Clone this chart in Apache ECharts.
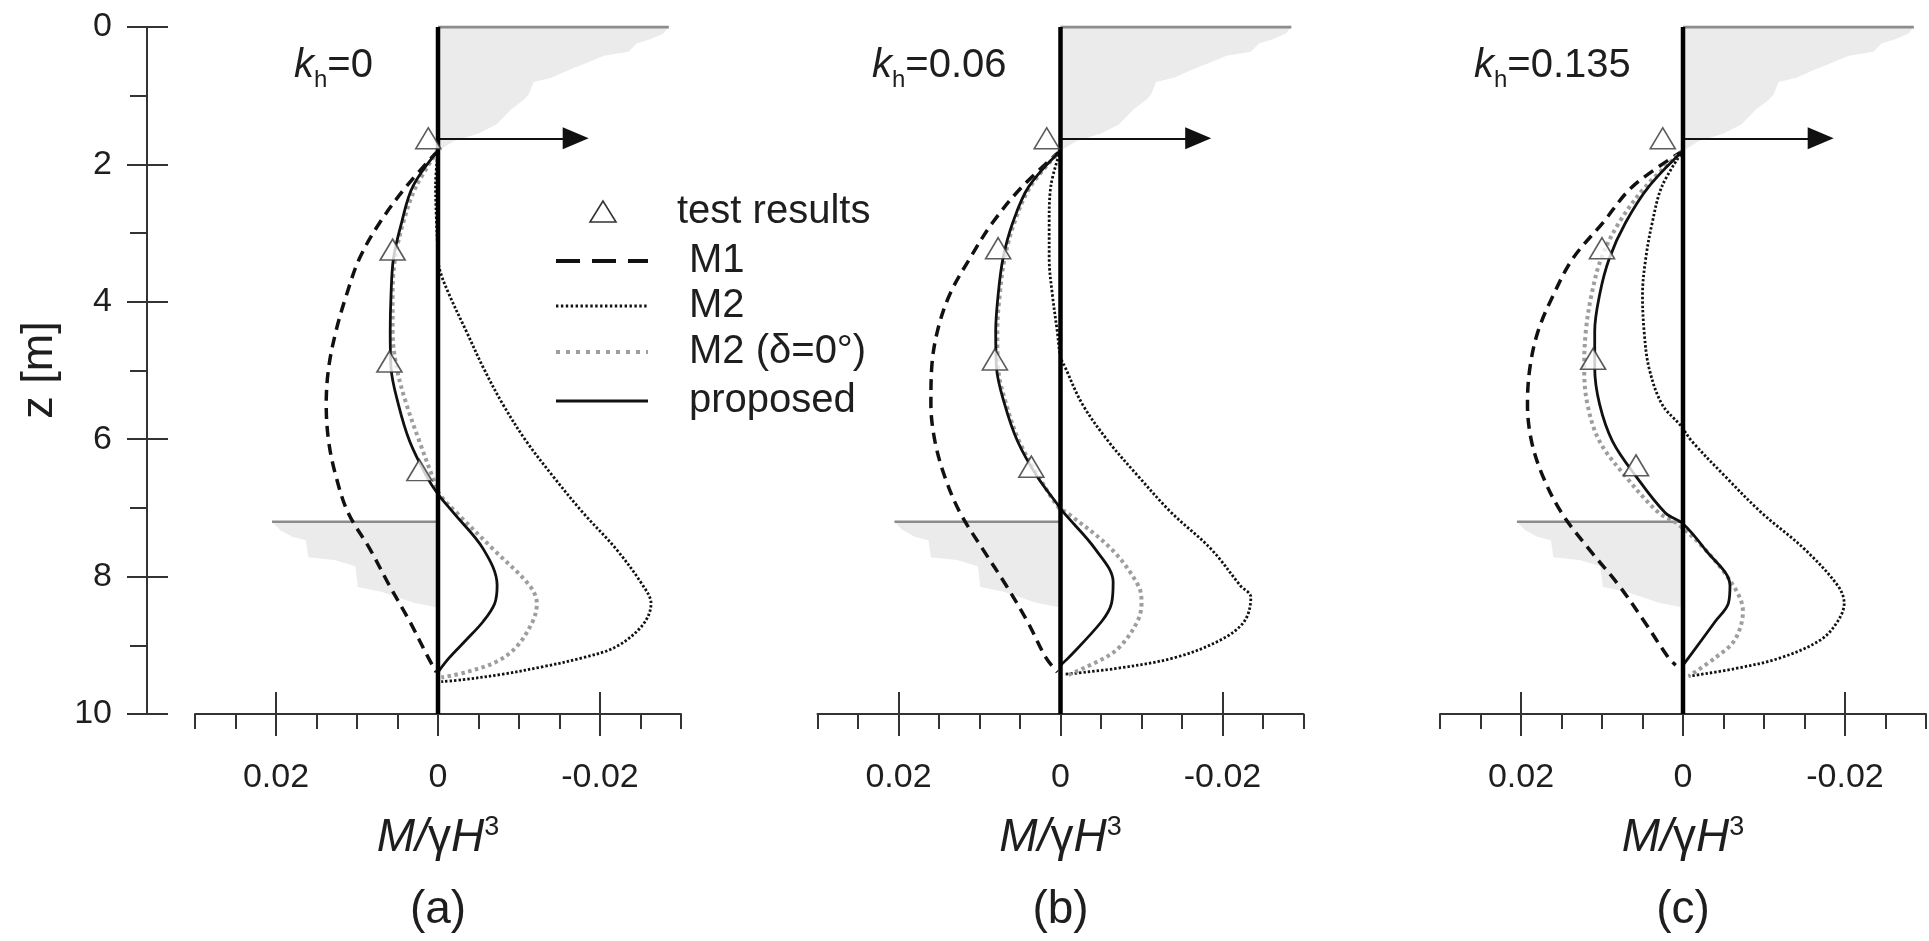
<!DOCTYPE html>
<html><head><meta charset="utf-8">
<script src="https://cdn.jsdelivr.net/npm/echarts@6/dist/echarts.min.js"></script>
<style>html,body{margin:0;padding:0;background:#fff}#c{width:1929px;height:941px}</style>
</head><body><div id="c"></div>
<script>
// ---------- data ----------
const panelLabels = ['(a)', '(b)', '(c)'];
const khValues = ['=0', '=0.06', '=0.135'];
const xTickLabels = [0.02, 0, -0.02];
const legendLabels = ['test results', 'M1', 'M2', 'M2 (\u03b4=0\u00b0)', 'proposed'];

// test results  [M/γH³, z]
const testA = [[0.0012,1.62],[0.0056,3.24],[0.0060,4.87],[0.0023,6.45]];
const testB = [[0.0017,1.62],[0.0077,3.22],[0.0081,4.84],[0.0036,6.40]];
const testC = [[0.0025,1.62],[0.0100,3.22],[0.0111,4.83],[0.0058,6.38]];

// M1
const m1A = [[0,1.8],[0.0039,2.32],[0.0072,2.85],[0.0097,3.37],[0.0113,3.9],[0.0126,4.43],[0.0135,4.96],[0.0138,5.49],[0.0135,6.03],[0.0126,6.54],[0.0111,7.07],[0.0084,7.6],[0.0060,8.13],[0.0035,8.65],[0.0012,9.18],[0.0002,9.39]];
const m1B = [[0,1.8],[0.0047,2.32],[0.0084,2.85],[0.0112,3.37],[0.0137,3.9],[0.0152,4.43],[0.0159,4.96],[0.0160,5.49],[0.0155,6.03],[0.0143,6.54],[0.0124,7.07],[0.0096,7.6],[0.0067,8.13],[0.0041,8.65],[0.0018,9.18],[0.0004,9.39]];
const m1C = [[0,1.8],[0.0062,2.32],[0.0099,2.85],[0.0136,3.37],[0.0160,3.9],[0.0179,4.43],[0.0189,4.96],[0.0192,5.49],[0.0187,6.03],[0.0173,6.54],[0.0150,7.07],[0.0116,7.6],[0.0079,8.13],[0.0048,8.65],[0.0018,9.18],[0.0009,9.29]];

// M2
const m2A = [[0,1.8],[0.0003,2.3],[0.0002,2.8],[0,3.3],[-0.0002,3.53],[-0.0014,3.9],[-0.0035,4.43],[-0.0056,4.96],[-0.0080,5.49],[-0.0109,6.03],[-0.0142,6.54],[-0.0179,7.07],[-0.0220,7.6],[-0.0253,8.13],[-0.0263,8.39],[-0.0253,8.70],[-0.0220,9.02],[-0.0179,9.18],[-0.0130,9.31],[-0.0080,9.42],[-0.0031,9.50],[-0.0004,9.53]];
const m2B = [[0,1.8],[0.0012,2.32],[0.0014,2.85],[0.0014,3.37],[0.0010,3.9],[0.0004,4.43],[0,4.8],[-0.0006,4.96],[-0.0027,5.49],[-0.0059,6.03],[-0.0096,6.54],[-0.0137,7.07],[-0.0186,7.6],[-0.0222,8.13],[-0.0235,8.3],[-0.0227,8.65],[-0.0198,8.92],[-0.0141,9.18],[-0.0067,9.34],[-0.0006,9.42]];
const m2C = [[0,1.8],[0.0026,2.32],[0.0038,2.85],[0.0046,3.37],[0.0050,3.9],[0.0048,4.43],[0.0042,4.96],[0.0026,5.49],[0.0003,5.8],[-0.0011,6.03],[-0.0052,6.54],[-0.0097,7.07],[-0.0150,7.6],[-0.0191,8.13],[-0.0199,8.39],[-0.0191,8.65],[-0.0170,8.92],[-0.0121,9.18],[-0.0064,9.34],[-0.0007,9.45]];

// M2 (delta = 0)
const m2dA = [[0,1.8],[0.0027,2.32],[0.0043,2.85],[0.0053,3.37],[0.0056,3.9],[0.0056,4.43],[0.0051,4.96],[0.0039,5.49],[0.0023,6.03],[0.0007,6.54],[-0.0002,6.8],[-0.0023,7.07],[-0.0068,7.6],[-0.0113,8.13],[-0.0122,8.39],[-0.0117,8.65],[-0.0097,9.02],[-0.0072,9.24],[-0.0035,9.39],[-0.0004,9.47]];
const m2dB = [[0,1.8],[0.0037,2.32],[0.0057,2.85],[0.0069,3.37],[0.0075,3.9],[0.0078,4.43],[0.0077,4.96],[0.0067,5.49],[0.0051,6.03],[0.0027,6.54],[0.0002,7.0],[-0.0008,7.07],[-0.0063,7.6],[-0.0096,8.13],[-0.0100,8.39],[-0.0095,8.65],[-0.0075,9.0],[-0.0055,9.18],[-0.0006,9.45]];
const m2dC = [[0,1.8],[0.0046,2.32],[0.0079,2.85],[0.0101,3.37],[0.0113,3.9],[0.0120,4.43],[0.0122,4.96],[0.0118,5.49],[0.0103,6.03],[0.0071,6.54],[0.0030,7.07],[0.0007,7.23],[-0.0027,7.6],[-0.0062,8.13],[-0.0074,8.5],[-0.0064,8.92],[-0.0040,9.18],[-0.0007,9.45]];

// proposed
const propA = [[0,1.8],[0.0031,2.32],[0.0045,2.85],[0.0055,3.37],[0.0058,3.9],[0.0059,4.43],[0.0058,4.96],[0.0049,5.49],[0.0035,6.03],[0.0014,6.54],[0,6.8],[-0.0019,7.07],[-0.0056,7.6],[-0.0073,8.13],[-0.0070,8.39],[-0.0056,8.65],[-0.0035,8.92],[-0.0014,9.18],[0,9.39]];
const propB = [[0,1.8],[0.0039,2.32],[0.0059,2.85],[0.0071,3.37],[0.0077,3.9],[0.0080,4.43],[0.0079,4.96],[0.0069,5.49],[0.0053,6.03],[0.0029,6.54],[0.0003,6.96],[-0.0004,7.07],[-0.0043,7.6],[-0.0065,8.08],[-0.0063,8.39],[-0.0051,8.65],[-0.0010,9.18],[0,9.29]];
const propC = [[0,1.8],[0.0042,2.32],[0.0071,2.85],[0.0091,3.37],[0.0103,3.9],[0.0109,4.43],[0.0109,4.96],[0.0103,5.49],[0.0087,6.03],[0.0058,6.54],[0.0022,7.07],[0,7.23],[-0.0027,7.6],[-0.0058,8.13],[-0.0056,8.39],[-0.0040,8.65],[-0.0007,9.18],[0,9.29]];

// wall, ground surfaces, prop
const wallLine = [[0,0],[0,10]];
const topGroundLine = [[0,0],[-0.0285,0]];
const excavationLine = [[0,7.2],[0.0205,7.2]];
const propArrow = [[0,1.62],[-0.0170,1.62]];
const backfillShape = [[0,0],[-0.0285,0],[-0.0278,0.1],[-0.0262,0.18],[-0.0245,0.24],[-0.0235,0.36],[-0.0205,0.42],[-0.0178,0.55],[-0.0163,0.62],[-0.0140,0.74],[-0.0118,0.8],[-0.0112,0.98],[-0.0106,1.06],[-0.0090,1.2],[-0.0072,1.42],[-0.0050,1.55],[-0.0020,1.66],[0,1.8]];
const excavationShape = [[0,7.2],[0.0205,7.2],[0.0195,7.32],[0.0180,7.42],[0.0163,7.47],[0.0160,7.72],[0.0128,7.76],[0.0102,7.85],[0.0099,8.15],[0.0070,8.22],[0.0030,8.38],[0,8.45]];

const panels = [
  {test:testA, m1:m1A, m2:m2A, m2d:m2dA, prop:propA},
  {test:testB, m1:m1B, m2:m2B, m2d:m2dB, prop:propB},
  {test:testC, m1:m1C, m2:m2C, m2d:m2dC, prop:propC}
];

// ---------- layout ----------
const FONT = "'Liberation Sans', Arial, Helvetica, sans-serif";
const TXT = '#1e1e1e';
const AX = '#333';
const zeroX = [438, 1060.5, 1683];
const gridW = 486, gridTop = 27, gridH = 687;
const khLeft = [294, 872, 1474];

const grids = zeroX.map(x0 => ({left: x0 - gridW / 2, top: gridTop, width: gridW, height: gridH}));

const xAxes = [];
for (let i = 0; i < 3; i++) xAxes.push({
  gridIndex: i, type: 'value', position: 'bottom', min: -0.03, max: 0.03, interval: 0.005, inverse: true,
  axisLine: {show: true, onZero: false, lineStyle: {color: AX, width: 2}},
  axisTick: {show: true, length: 15, lineStyle: {color: AX, width: 2}},
  axisLabel: {show: true, customValues: xTickLabels, formatter: v => (Math.abs(v) < 1e-9 ? '0' : String(v)),
    fontSize: 34, fontFamily: FONT, color: TXT, margin: 47},
  splitLine: {show: false}
});
for (let k = 0; k < 2; k++) for (let i = 0; i < 3; i++) xAxes.push({
  gridIndex: i, type: 'value', position: 'bottom', offset: 0, min: -0.03, max: 0.03, inverse: true,
  axisLine: {show: false, onZero: false},
  axisTick: {show: true, inside: k === 1, customValues: xTickLabels, length: 22, lineStyle: {color: AX, width: 2}},
  axisLabel: {show: false}, splitLine: {show: false}
});

const yAxes = [];
for (let i = 0; i < 3; i++) yAxes.push({
  gridIndex: i, type: 'value', min: 0, max: 10, interval: 2, inverse: true, show: i === 0,
  position: 'left', offset: 48,
  axisLine: {show: true, onZero: false, lineStyle: {color: AX, width: 2}},
  axisTick: {show: true, length: 20, lineStyle: {color: AX, width: 2}},
  minorTick: {show: true, splitNumber: 2, length: 17, lineStyle: {color: AX, width: 2}},
  axisLabel: {fontSize: 34, fontFamily: FONT, color: TXT, margin: 35},
  splitLine: {show: false}, minorSplitLine: {show: false}
});
yAxes.push({
  gridIndex: 0, type: 'value', min: 0, max: 10, interval: 2, inverse: true, position: 'left', offset: 48,
  axisLine: {show: false, onZero: false},
  axisTick: {show: true, inside: true, length: 21, lineStyle: {color: AX, width: 2}},
  axisLabel: {show: false}, splitLine: {show: false}
});

function polyRender(shape) {
  return function (params, api) {
    if (params.dataIndex !== 0) return null;
    return {type: 'polygon', shape: {points: shape.map(p => api.coord(p))}, style: {fill: '#ebebeb'}, silent: true};
  };
}

const series = [];
panels.forEach((d, i) => {
  const ax = {xAxisIndex: i, yAxisIndex: i, animation: false, silent: true};
  series.push(
    {...ax, type: 'custom', renderItem: polyRender(backfillShape), data: backfillShape, encode: {x: 0, y: 1}, z: 1, clip: false},
    {...ax, type: 'custom', renderItem: polyRender(excavationShape), data: excavationShape, encode: {x: 0, y: 1}, z: 1, clip: false},
    {...ax, type: 'line', data: topGroundLine, symbol: 'none', lineStyle: {color: '#8c8c8c', width: 3}, z: 2},
    {...ax, type: 'line', data: excavationLine, symbol: 'none', lineStyle: {color: '#8c8c8c', width: 2.5}, z: 2},
    {...ax, type: 'line', name: 'M1', data: d.m1, smooth: 0.35, symbol: 'none', lineStyle: {color: '#111', width: 3.5, type: [11, 7]}, z: 3},
    {...ax, type: 'line', name: 'M2', data: d.m2, smooth: 0.35, symbol: 'none', lineStyle: {color: '#111', width: 2.8, type: [2.4, 2]}, z: 3},
    {...ax, type: 'line', name: 'M2d', data: d.m2d, smooth: 0.35, symbol: 'none', lineStyle: {color: '#9e9e9e', width: 4, type: [3.5, 3.5]}, z: 3},
    {...ax, type: 'line', name: 'proposed', data: d.prop, smooth: 0.35, symbol: 'none', lineStyle: {color: '#111', width: 2.8}, z: 4},
    {...ax, type: 'line', data: wallLine, symbol: 'none', lineStyle: {color: '#000', width: 4.5}, z: 5,
      markLine: {silent: true, animation: false, symbol: ['none', 'triangle'], symbolSize: [22, 26],
        lineStyle: {color: '#111', width: 2, type: 'solid'}, label: {show: false},
        data: [[{coord: propArrow[0]}, {coord: propArrow[1]}]]}},
    {...ax, type: 'scatter', name: 'test results', data: d.test, symbol: 'triangle', symbolSize: [25, 21],
      itemStyle: {color: '#fff', borderColor: '#333', borderWidth: 1.6}, z: 6}
  );
});

// ---------- text ----------
const ctx = document.createElement('canvas').getContext('2d');
function fontStr(size, italic) { return (italic ? 'italic ' : '') + size + 'px ' + FONT; }
function tw(t, size, italic) { ctx.font = fontStr(size, italic); return ctx.measureText(t).width; }
function runs(list, x, y, align) {
  const total = list.reduce((s, r) => s + tw(r.t, r.size, r.italic), 0);
  let cx = align === 'center' ? x - total / 2 : x;
  return list.map(r => {
    const el = {type: 'text', x: cx, y: y + (r.dy || 0), silent: true,
      style: {text: r.t, font: fontStr(r.size, r.italic), fill: TXT, align: 'left', verticalAlign: 'middle'}};
    cx += tw(r.t, r.size, r.italic);
    return el;
  });
}

const graphic = [];
graphic.push({type: 'text', x: 40, y: 370, rotation: Math.PI / 2, silent: true,
  style: {text: 'z [m]', font: fontStr(45, false), fill: TXT, align: 'center', verticalAlign: 'middle'}});
for (let i = 0; i < 3; i++) {
  graphic.push(...runs([{t: 'k', size: 40, italic: true}, {t: 'h', size: 24, dy: 14}, {t: khValues[i], size: 40}], khLeft[i], 66, 'left'));
  graphic.push(...runs([{t: 'M/', size: 46, italic: true}, {t: '\u03b3', size: 46}, {t: 'H', size: 46, italic: true}, {t: '3', size: 27, dy: -10}], zeroX[i], 838, 'center'));
  graphic.push({type: 'text', x: zeroX[i], y: 910, silent: true,
    style: {text: panelLabels[i], font: fontStr(46, false), fill: TXT, align: 'center', verticalAlign: 'middle'}});
}
// legend
const legRows = [212, 261, 306, 352, 401];
graphic.push({type: 'polygon', silent: true, shape: {points: [[603, 201], [590, 222], [616, 222]]},
  style: {fill: '#fff', stroke: '#333', lineWidth: 1.6}});
const legLine = (y, style) => ({type: 'line', silent: true, shape: {x1: 556, y1: y, x2: 648, y2: y}, style: style});
graphic.push(legLine(legRows[1], {stroke: '#111', lineWidth: 4, lineDash: [24, 12]}));
graphic.push(legLine(legRows[2], {stroke: '#111', lineWidth: 2.8, lineDash: [2.4, 2.5]}));
graphic.push(legLine(legRows[3], {stroke: '#9e9e9e', lineWidth: 4, lineDash: [4, 6]}));
graphic.push(legLine(legRows[4], {stroke: '#111', lineWidth: 3}));
legendLabels.forEach((t, k) => {
  graphic.push({type: 'text', x: k === 0 ? 677 : 689, y: legRows[k], silent: true,
    style: {text: t, font: fontStr(40, false), fill: TXT, align: 'left', verticalAlign: 'middle'}});
});

const chart = echarts.init(document.getElementById('c'), null, {renderer: 'canvas', width: 1929, height: 941});
chart.setOption({
  animation: false,
  backgroundColor: '#fff',
  grid: grids,
  xAxis: xAxes,
  yAxis: yAxes,
  series: series,
  graphic: graphic
});
</script>
</body></html>
